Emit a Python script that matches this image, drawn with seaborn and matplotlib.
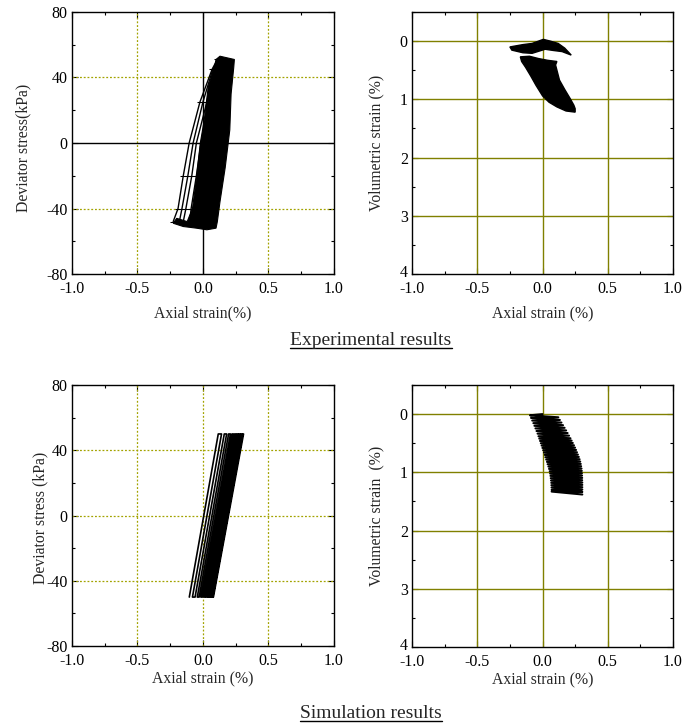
import numpy as np
import pandas as pd
import matplotlib
matplotlib.use("Agg")
import matplotlib.pyplot as plt
from matplotlib.lines import Line2D
from matplotlib.ticker import MultipleLocator
from matplotlib.transforms import ScaledTranslation
import seaborn as sns

# ---------------- data ----------------
# experimental, deviator stress vs axial strain: outer loops (x at fixed stress levels)
exp_q_levels = [-48, -40, -20, 0, 25, 45, 51]
exp_loop_x = [
    [-0.227, -0.19, -0.15, -0.105, -0.023, 0.07, 0.11],
    [-0.18, -0.16, -0.115, -0.075, 0.0, 0.075, 0.115],
    [-0.15, -0.13, -0.085, -0.05, 0.03, 0.08, 0.12],
    [-0.10, -0.09, -0.05, -0.015, 0.05, 0.09, 0.13],
]
# dense band of experimental cycles (outline)
exp_band_x = [-0.12, -0.08, -0.05, -0.02, 0.01, 0.04, 0.09, 0.10, 0.13, 0.24,
              0.235, 0.215, 0.205, 0.17, 0.13, 0.11, 0.10, 0.03, -0.05, -0.15, -0.227, -0.2]
exp_band_q = [-48, -40, -22, 0, 14, 34, 47, 51, 53, 51,
              46, 30, 8, -15, -36, -48, -52, -53, -52, -51, -49, -46]

# experimental, volumetric strain vs axial strain
exp_vtop_x = [-0.25, -0.15, -0.08, 0.006, 0.06, 0.12, 0.17, 0.22, 0.15, 0.08, 0.02, -0.08, -0.15, -0.235]
exp_vtop_y = [0.10, 0.06, 0.04, -0.03, 0.0, 0.04, 0.12, 0.24, 0.18, 0.16, 0.14, 0.21, 0.20, 0.155]
exp_vblob_x = [-0.17, -0.1, -0.03, 0.04, 0.11, 0.10, 0.13, 0.17, 0.21, 0.24, 0.25, 0.25,
               0.18, 0.11, 0.05, 0.0, -0.05, -0.09, -0.13, -0.16]
exp_vblob_y = [0.27, 0.26, 0.30, 0.33, 0.35, 0.41, 0.67, 0.83, 0.98, 1.10, 1.16, 1.22,
               1.20, 1.13, 1.05, 0.94, 0.76, 0.60, 0.45, 0.35]

# simulation, deviator stress vs axial strain (x at -50 kPa and +50 kPa per cycle)
sim_q_low, sim_q_high = -50, 50
sim_x_low = [-0.104, -0.080, -0.060, -0.043, -0.029, -0.016, -0.004, 0.007, 0.017, 0.026,
             0.035, 0.043, 0.051, 0.058, 0.064, 0.070, 0.075, 0.080]
sim_x_high = [0.117, 0.142, 0.163, 0.181, 0.196, 0.210, 0.222, 0.233, 0.243, 0.253,
              0.262, 0.270, 0.278, 0.285, 0.292, 0.298, 0.304, 0.310]

# simulation, volumetric strain vs axial strain (left / right turning points)
sim_vl_x = [-0.096, -0.088, -0.079, -0.070, -0.062, -0.054, -0.046, -0.038, -0.031, -0.025, -0.019,
            -0.013, -0.007, -0.001, 0.005, 0.011, 0.017, 0.022, 0.028, 0.034, 0.039, 0.045,
            0.050, 0.055, 0.058, 0.061, 0.063, 0.065, 0.067, 0.068, 0.069, 0.070, 0.070]
sim_vl_y = [0.02, 0.065, 0.11, 0.155, 0.20, 0.245, 0.29, 0.335, 0.38, 0.42, 0.46,
            0.50, 0.54, 0.58, 0.62, 0.66, 0.70, 0.74, 0.78, 0.82, 0.86, 0.90,
            0.94, 0.98, 1.02, 1.06, 1.10, 1.14, 1.18, 1.22, 1.26, 1.30, 1.33]
sim_vr_x = [0.121, 0.133, 0.145, 0.157, 0.169, 0.181, 0.192, 0.203, 0.214, 0.223, 0.232,
            0.241, 0.249, 0.257, 0.264, 0.271, 0.278, 0.284, 0.289, 0.293, 0.296, 0.299,
            0.301, 0.302, 0.303, 0.304, 0.304, 0.305, 0.305, 0.305, 0.305, 0.305, 0.305]
sim_vr_y = [0.055, 0.10, 0.145, 0.19, 0.235, 0.28, 0.325, 0.37, 0.415, 0.455, 0.495,
            0.535, 0.575, 0.615, 0.655, 0.695, 0.735, 0.775, 0.815, 0.855, 0.895, 0.935,
            0.975, 1.015, 1.055, 1.095, 1.135, 1.175, 1.215, 1.255, 1.295, 1.335, 1.38]

x_ticks = [-1.0, -0.5, 0.0, 0.5, 1.0]
x_labels = ['-1.0', '-0.5', '0.0', '0.5', '1.0']
q_ticks = [-80, -40, 0, 40, 80]
v_ticks = [0, 1, 2, 3, 4]

# ---------------- style ----------------
sns.set_style("ticks")
plt.rcParams['font.family'] = ['Liberation Serif', 'DejaVu Serif']
plt.rcParams['font.size'] = 11.3
plt.rcParams['axes.unicode_minus'] = False

fig = plt.figure(figsize=(6.85, 7.27), dpi=100)
ax1 = fig.add_axes([0.105, 0.6231, 0.3825, 0.3604])
ax2 = fig.add_axes([0.6015, 0.6231, 0.381, 0.3604])
ax3 = fig.add_axes([0.105, 0.1114, 0.3825, 0.3590])
ax4 = fig.add_axes([0.6015, 0.1100, 0.381, 0.3604])

dotted = dict(color='#a3a300', lw=0.9, ls=(0, (1.5, 1.5)), zorder=1)
solid = dict(color='#808000', lw=1.0, ls='-', zorder=1)


def frame(ax):
    ax.set_xlim(-1, 1)
    ax.set_xticks(x_ticks)
    ax.set_xticklabels(x_labels)
    ax.xaxis.set_minor_locator(MultipleLocator(0.25))
    ax.tick_params(which='both', direction='in', top=True, right=True, colors='black',
                   labelsize=11.5)
    ax.tick_params(axis='x', pad=5)
    ax.tick_params(axis='y', pad=3)
    ax.tick_params(which='major', length=4, width=0.8)
    ax.tick_params(which='minor', length=2.5, width=0.8)
    for s in ax.spines.values():
        s.set_linewidth(1.0)
        s.set_color('black')


def q_frame(ax):
    frame(ax)
    ax.set_ylim(-80, 80)
    ax.set_yticks(q_ticks)
    ax.yaxis.set_minor_locator(MultipleLocator(20))


def v_frame(ax):
    frame(ax)
    ax.set_ylim(4, -0.5)
    ax.set_yticks(v_ticks)
    ax.yaxis.set_minor_locator(MultipleLocator(0.5))
    for v in [0, 1, 2, 3]:
        ax.axhline(v, **solid)
    for x in [-0.5, 0.0, 0.5]:
        ax.axvline(x, **solid)


# --- panel 1: experimental stress-strain ---
q_frame(ax1)
for x in [-0.5, 0.5]:
    ax1.axvline(x, **dotted)
for q in [-40, 40]:
    ax1.axhline(q, **dotted)
ax1.axvline(0, color='black', lw=1.0, zorder=1)
ax1.axhline(0, color='black', lw=1.0, zorder=1)
ax1.fill(exp_band_x, exp_band_q, color='black', lw=0.8, zorder=3)
for lx in exp_loop_x:
    sns.lineplot(x=lx, y=exp_q_levels, sort=False, estimator=None, color='black', lw=1.0,
                 marker='_', markersize=5, markeredgecolor='black', ax=ax1, zorder=4)
ax1.set_xlabel('Axial strain(%)', labelpad=6)
ax1.set_ylabel('Deviator stress(kPa)')
ax1.yaxis.set_label_coords(-0.155, 0.48)

# --- panel 2: experimental volumetric ---
v_frame(ax2)
ax2.fill(exp_vtop_x, exp_vtop_y, color='black', lw=1.0, zorder=3)
ax2.fill(exp_vblob_x, exp_vblob_y, color='black', lw=1.0, zorder=3)
ax2.set_xlabel('Axial strain (%)', labelpad=6)
ax2.set_ylabel('Volumetric strain (%)')
ax2.yaxis.set_label_coords(-0.107, 0.5)

# --- panel 3: simulation stress-strain (serpentine path through the cycles) ---
q_frame(ax3)
for x in [-0.5, 0.0, 0.5]:
    ax3.axvline(x, **dotted)
for q in [-40, 0, 40]:
    ax3.axhline(q, **dotted)
px, py = [], []
for i in range(len(sim_x_low)):
    if i % 2 == 0:
        px += [sim_x_low[i], sim_x_high[i]]
        py += [sim_q_low, sim_q_high]
    else:
        px += [sim_x_high[i], sim_x_low[i]]
        py += [sim_q_high, sim_q_low]
path = pd.DataFrame({'x': px, 'y': py})
sns.lineplot(data=path, x='x', y='y', sort=False, estimator=None, color='black', lw=1.2, ax=ax3, zorder=3)
ax3.set_xlabel('Axial strain (%)', labelpad=1)
ax3.set_ylabel('Deviator stress (kPa)')
ax3.yaxis.set_label_coords(-0.09, 0.49)

# --- panel 4: simulation volumetric ---
v_frame(ax4)
vx, vy = [0.0], [0.0]
for i in range(len(sim_vl_x)):
    vx += [sim_vl_x[i], sim_vr_x[i]]
    vy += [sim_vl_y[i], sim_vr_y[i]]
vpath = pd.DataFrame({'x': vx, 'y': vy})
sns.lineplot(data=vpath, x='x', y='y', sort=False, estimator=None, color='black', lw=1.5, ax=ax4, zorder=3)
ax4.set_xlabel('Axial strain (%)', labelpad=1)
ax4.set_ylabel('Volumetric strain  (%)')
ax4.yaxis.set_label_coords(-0.107, 0.5)

for ax in [ax1, ax2, ax3, ax4]:
    ax.set_xlim(-1, 1)

# lift the lowest y label of the volumetric panels a touch so it clears "-1.0"
for ax in [ax2, ax4]:
    lab = ax.get_yticklabels()[-1]
    lab.set_transform(lab.get_transform() + ScaledTranslation(0, 2 / 72, fig.dpi_scale_trans))

# --- captions with underline ---
t1 = fig.text(371 / 685, 1 - 340 / 727, 'Experimental results', ha='center', va='center', fontsize=14)
t2 = fig.text(371 / 685, 1 - 713 / 727, 'Simulation results', ha='center', va='center', fontsize=14)
fig.canvas.draw()
r = fig.canvas.get_renderer()
for t in [t1, t2]:
    bb = t.get_window_extent(r).transformed(fig.transFigure.inverted())
    yl = bb.y0 + 0.001
    fig.add_artist(Line2D([bb.x0, bb.x1], [yl, yl], color='black', lw=1.0, transform=fig.transFigure))

fig.savefig('out.png', dpi=100)
